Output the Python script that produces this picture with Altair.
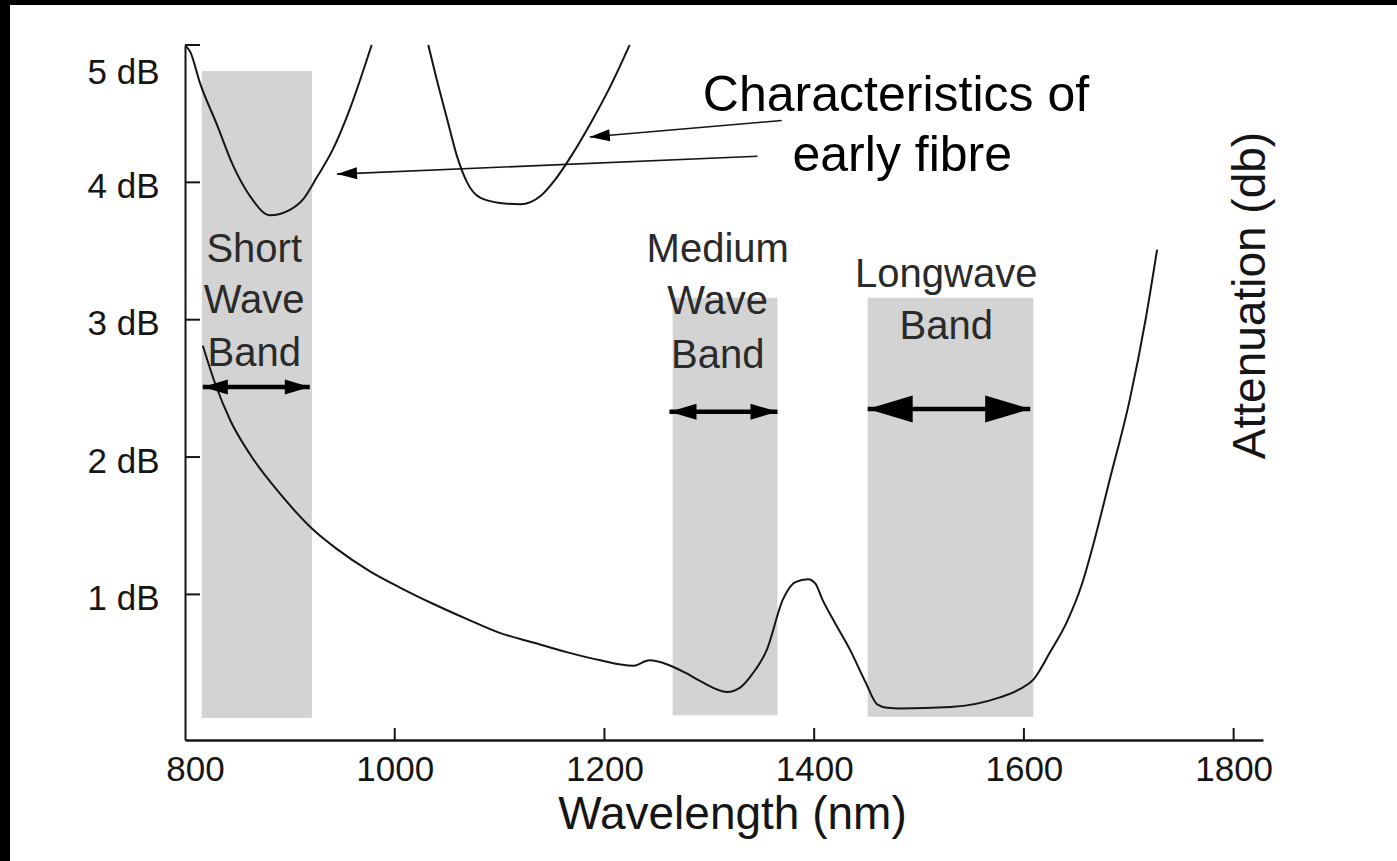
import altair as alt
import pandas as pd

# ---------------- data ----------------
main_wl = [817, 829, 843, 862, 891, 921, 945, 976, 1005, 1037, 1069, 1100, 1132, 1164, 1196, 1227,
           1243, 1260, 1277, 1291, 1317, 1329, 1339, 1355, 1370, 1382, 1394, 1401, 1408, 1420, 1434,
           1449, 1460, 1470, 1482, 1530, 1577, 1596, 1609, 1625, 1641, 1656, 1665, 1682, 1701, 1716,
           1727]
main_db = [2.81, 2.53, 2.27, 2.02, 1.73, 1.48, 1.33, 1.17, 1.05, 0.93, 0.82, 0.72, 0.65, 0.58, 0.52, 0.48,
           0.52, 0.49, 0.43, 0.37, 0.29, 0.32, 0.40, 0.60, 0.96, 1.09, 1.11, 1.08, 0.96, 0.79, 0.60,
           0.36, 0.20, 0.175, 0.17, 0.18, 0.25, 0.31, 0.38, 0.58, 0.80, 1.09, 1.33, 1.84, 2.42, 3.00,
           3.51]

early1_wl = [801, 805, 814, 831, 846, 862, 881, 900, 913, 926, 941, 957, 978]
early1_db = [4.99, 4.95, 4.73, 4.41, 4.12, 3.90, 3.76, 3.80, 3.88, 4.04, 4.24, 4.53, 5.00]

early2_wl = [1032, 1040, 1050, 1059, 1069, 1081, 1100, 1120, 1139, 1153, 1169, 1186, 1205, 1224]
early2_db = [5.00, 4.75, 4.46, 4.20, 4.00, 3.89, 3.85, 3.84, 3.90, 4.02, 4.20, 4.42, 4.69, 5.00]

band_names = ["Short", "Medium", "Long"]
band_start = [816, 1265, 1451]
band_end = [921, 1365, 1609]
band_top = [4.81, 3.16, 3.16]
band_bottom = [0.10, 0.12, 0.11]

label_text = ["Short", "Wave", "Band", "Medium", "Wave", "Band", "Longwave", "Band"]
label_wl = [866, 866, 866, 1308, 1308, 1308, 1526, 1526]
label_db = [3.42, 3.05, 2.66, 3.42, 3.04, 2.65, 3.24, 2.86]

# double-headed band arrows
barrow_from = [817, 1262, 1451]
barrow_to = [919, 1365, 1606]
barrow_db = [2.51, 2.33, 2.35]
barrow_head = [625, 729, 2025]

# "early fibre" pointer arrows (tail -> tip)
parrow_tail_wl = [1369, 1346]
parrow_tail_db = [4.45, 4.19]
parrow_tip_wl = [1186, 945]
parrow_tip_db = [4.33, 4.06]
parrow_angle = [355.2, 357.3]

note_text = ["Characteristics of", "early fibre"]
note_wl = [1478, 1484]
note_db = [4.52, 4.08]

x_ticks = [800, 1000, 1200, 1400, 1600, 1800]
y_ticks = [1, 2, 3, 4, 5]

# ---------------- tables ----------------
curves = pd.concat([
    pd.DataFrame({"wl": main_wl, "db": main_db, "curve": "modern"}),
    pd.DataFrame({"wl": early1_wl, "db": early1_db, "curve": "early1"}),
    pd.DataFrame({"wl": early2_wl, "db": early2_db, "curve": "early2"}),
])
bands = pd.DataFrame({"name": band_names, "x0": band_start, "x1": band_end,
                      "y0": band_bottom, "y1": band_top})
labels = pd.DataFrame({"t": label_text, "wl": label_wl, "db": label_db})
barrows = pd.DataFrame({"x0": barrow_from, "x1": barrow_to, "db": barrow_db, "s": barrow_head})
heads = pd.concat([
    pd.DataFrame({"wl": barrow_from, "db": barrow_db, "s": barrow_head, "a": [0] * 3}),
    pd.DataFrame({"wl": barrow_to, "db": barrow_db, "s": barrow_head, "a": [180] * 3}),
    pd.DataFrame({"wl": parrow_tip_wl, "db": parrow_tip_db, "s": [400, 400], "a": parrow_angle}),
])
parrows = pd.DataFrame({"x0": parrow_tail_wl, "y0": parrow_tail_db,
                        "x1": parrow_tip_wl, "y1": parrow_tip_db})
notes = pd.DataFrame({"t": note_text, "wl": note_wl, "db": note_db})
xt = pd.DataFrame({"v": x_ticks[1:]})
yt = pd.DataFrame({"v": y_ticks})

# ---------------- geometry / style ----------------
W, H = 1078, 695
FONT = "Liberation Sans"
INK = "#151515"

xs = alt.Scale(domain=[800, 1828], nice=False, zero=False)
ys = alt.Scale(domain=[-0.06, 5.0], nice=False, zero=False)

x_axis = alt.Axis(
    title="Wavelength (nm)", values=x_ticks, format="d", ticks=False, tickSize=0,
    grid=False, labelFlush=False, labelPadding=12, labelFontSize=35, labelFont=FONT,
    labelColor=INK, labelOffset={"condition": {"test": "datum.value == 800", "value": 10}, "value": 0},
    domainColor=INK, domainWidth=2.5, titleFontSize=46, titleFont=FONT, titleFontWeight="normal",
    titleColor=INK, titleX=547, titleY=88, titleBaseline="alphabetic", titleAlign="center",
    zindex=2,
)
y_axis = alt.Axis(
    title="Attenuation (db)", values=y_ticks, labelExpr="datum.value + ' dB'", ticks=False,
    tickSize=0, grid=False, labelPadding=26, labelFontSize=35, labelFont=FONT, labelColor=INK,
    labelOffset={"condition": {"test": "datum.value == 5", "value": 27}, "value": 4},
    domainColor=INK, domainWidth=2, titleFontSize=46, titleFont=FONT, titleFontWeight="normal",
    titleColor=INK, titleAngle=270, titleX=1065, titleY=250, titleAlign="center",
    titleBaseline="middle", zindex=2,
)


def X(field, **kw):
    return alt.X(field, type="quantitative", scale=xs, axis=x_axis, **kw)


def Y(field, **kw):
    return alt.Y(field, type="quantitative", scale=ys, axis=y_axis, **kw)


# white sheet over a black background (scan border at left and top)
sheet = alt.Chart(pd.DataFrame({"k": [0]})).mark_rect(color="white").encode(
    x=alt.value(-175), x2=alt.value(W + 134), y=alt.value(-40), y2=alt.value(H + 121)
)

band_layer = alt.Chart(bands).mark_rect(color="#d3d3d3").encode(
    x=X("x0"), x2="x1", y=Y("y0"), y2="y1"
)

curve_layer = alt.Chart(curves).mark_line(
    color=INK, strokeWidth=2, interpolate="monotone"
).encode(x=X("wl"), y=Y("db"), detail="curve:N")

xtick_layer = alt.Chart(xt).mark_rule(color=INK, strokeWidth=2).encode(
    x=X("v"), y=alt.value(H - 12), y2=alt.value(H)
)
ytick_layer = alt.Chart(yt).mark_rule(color=INK, strokeWidth=2).encode(
    y=Y("v"), x=alt.value(0), x2=alt.value(15)
)

barrow_layer = alt.Chart(barrows).mark_rule(color="black", strokeWidth=4.5).encode(
    x=X("x0"), x2="x1", y=Y("db")
)
parrow_layer = alt.Chart(parrows).mark_rule(color=INK, strokeWidth=1.6).encode(
    x=X("x0"), x2="x1", y=Y("y0"), y2="y1"
)
head_layer = alt.Chart(heads).mark_point(
    shape="M 0 0 L 2 -0.6 L 2 0.6 Z", filled=True, color="black", opacity=1, strokeWidth=0
).encode(
    x=X("wl"), y=Y("db"),
    size=alt.Size("s:Q", scale=None, legend=None),
    angle=alt.Angle("a:Q", scale=None, legend=None),
)

label_layer = alt.Chart(labels).mark_text(
    font=FONT, fontSize=40, color="#2a2a2a", align="center", baseline="alphabetic"
).encode(x=X("wl"), y=Y("db"), text="t:N")

note_layer = alt.Chart(notes).mark_text(
    font=FONT, fontSize=50, color="black", align="center", baseline="alphabetic"
).encode(x=X("wl"), y=Y("db"), text="t:N")

chart = alt.layer(
    sheet, band_layer, curve_layer, xtick_layer, ytick_layer,
    barrow_layer, parrow_layer, head_layer, label_layer, note_layer,
).properties(
    width=W, height=H, background="black",
    padding={"left": 185, "top": 45, "right": 134, "bottom": 121},
    autosize=alt.AutoSizeParams(type="none"),
).configure_view(stroke=None)

chart.save("out.html", embed_options={"renderer": "svg", "actions": False})
